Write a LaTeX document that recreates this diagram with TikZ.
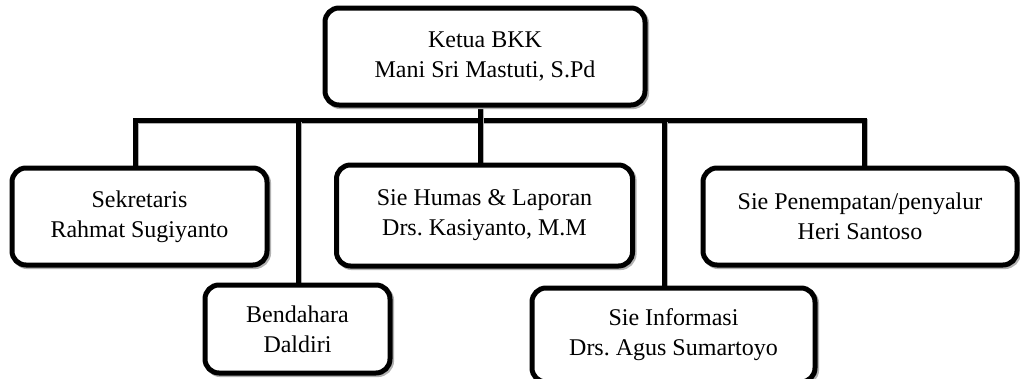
\documentclass[tikz,border=0pt]{standalone}
\usepackage{fontspec}
\setmainfont{Liberation Serif}
\frenchspacing
\tikzset{
  orgbox/.style={draw=black, line width=5pt, rounded corners=14pt, fill=white,
    align=center, inner sep=0pt, font=\fontsize{24}{30}\selectfont,
    preaction={draw=black!30, line width=5pt, transform canvas={xshift=1.6pt,yshift=-1.6pt}}},
  link/.style={draw=black, line width=5pt,
    preaction={draw=black!30, line width=5pt, transform canvas={xshift=1.6pt,yshift=-1.6pt}}}
}
\begin{document}
\begin{tikzpicture}[x=1pt,y=-1pt]
\useasboundingbox (0,0) rectangle (1020,378);
% connectors
\coordinate (jS) at (135,120);
\coordinate (jB) at (298,120);
\coordinate (jT) at (480,120);
\coordinate (jI) at (664,120);
\coordinate (jP) at (864,120);
\path[link] (jS |- 0,168) -- (jS) -- (jP) -- (jP |- 0,168);
\path[link] (jT |- 0,105) -- (jT |- 0,166);
\path[link] (jB) -- (jB |- 0,286);
\path[link] (jI) -- (jI |- 0,289);
% boxes
\node[orgbox, minimum width=320pt, minimum height=97pt] (top) at (485,56.5) {Ketua BKK\\Mani Sri Mastuti, S.Pd};
\node[orgbox, minimum width=255pt, minimum height=97pt] (sek) at (139.5,216.5) {Sekretaris\\Rahmat Sugiyanto};
\node[orgbox, minimum width=296pt, minimum height=101pt] (hum) at (484.5,215.5) {Sie Humas \& Laporan\\Drs. Kasiyanto, M.M};
\node[orgbox, minimum width=314pt, minimum height=97pt] (pen) at (860,216.5) {Sie Penempatan/penyalur\\Heri Santoso};
\node[orgbox, minimum width=185pt, minimum height=88pt] (ben) at (297.5,329) {Bendahara\\Daldiri};
\node[orgbox, minimum width=283pt, minimum height=94pt] (inf) at (673.5,335) {Sie Informasi\\Drs. Agus Sumartoyo};
\end{tikzpicture}
\end{document}
